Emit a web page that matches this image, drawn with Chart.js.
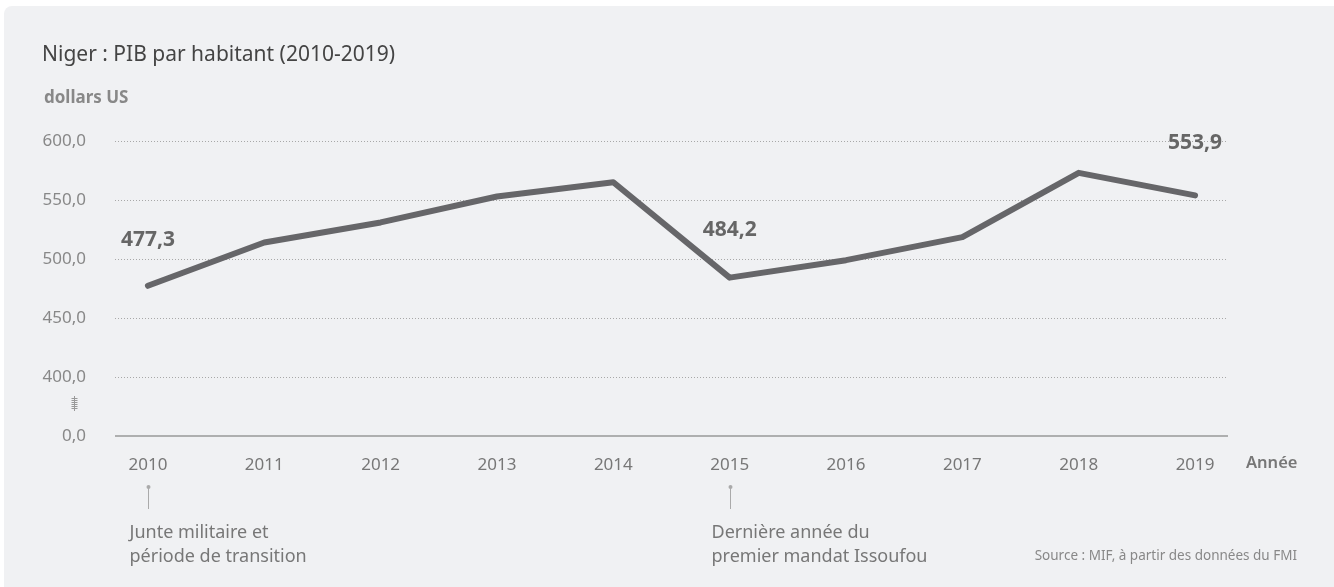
<!DOCTYPE html>
<html>
<head>
<meta charset="utf-8">
<script src="https://cdn.jsdelivr.net/npm/chart.js@4.4.0/dist/chart.umd.min.js"></script>
<style>
  html, body { margin: 0; padding: 0; background: #ffffff; }
  #card {
    position: absolute; left: 4px; top: 6px; width: 1330px; height: 581px;
    background: #f0f1f3; border-radius: 8px 0 0 0;
  }
  #wrap { position: absolute; left: 0; top: 0; width: 1334px; height: 587px; }
</style>
</head>
<body>
<div id="card"></div>
<div id="wrap"><canvas id="chart" width="1334" height="587"></canvas></div>
<script>
// Niger : PIB par habitant (2010-2019)
const years = [2010, 2011, 2012, 2013, 2014, 2015, 2016, 2017, 2018, 2019];
const gdpPerCapita = [477.3, 514.0, 531.0, 553.0, 565.0, 484.2, 499.0, 518.5, 573.0, 553.9];
const yTicks = [350, 400, 450, 500, 550, 600]; // 350 is shown as the broken-axis "0,0"
const labelledYears = [2010, 2015, 2019];
const notes = [
    { year: 2010, lines: ["Junte militaire et", "période de transition"] },
    { year: 2015, lines: ["Dernière année du", "premier mandat Issoufou"] }
];

const FONT = "'Noto Sans', 'Open Sans', sans-serif";
const fmt = v => v.toFixed(1).replace('.', ',');

const decorations = {
    id: 'decorations',
    afterDatasetsDraw(chart) {
        const { ctx, chartArea, scales: { x, y } } = chart;
        ctx.save();

        // titles
        ctx.textBaseline = 'middle';
        ctx.textAlign = 'left';
        ctx.fillStyle = '#444';
        ctx.font = `21px ${FONT}`;
        ctx.fillText('Niger : PIB par habitant (2010-2019)', 42, 55);
        ctx.fillStyle = '#888';
        ctx.font = `bold 17px ${FONT}`;
        ctx.fillText('dollars US', 44, 98);

        // axis name
        ctx.fillStyle = '#777';
        ctx.font = `600 16.5px ${FONT}`;
        ctx.fillText('Année', 1246, 463);

        // solid base line
        ctx.strokeStyle = '#999';
        ctx.lineWidth = 1.5;
        ctx.beginPath();
        ctx.moveTo(chartArea.left, y.getPixelForValue(350));
        ctx.lineTo(chartArea.right, y.getPixelForValue(350));
        ctx.stroke();

        // axis break mark
        ctx.strokeStyle = '#999';
        ctx.lineWidth = 1;
        ctx.beginPath();
        ctx.moveTo(74.5, 396);
        ctx.lineTo(74.5, 411);
        for (let yy = 398; yy <= 408; yy += 2) {
            ctx.moveTo(71.5, yy + 0.5);
            ctx.lineTo(77.5, yy + 0.5);
        }
        ctx.stroke();

        // value labels
        ctx.fillStyle = '#666';
        ctx.font = `bold 21px ${FONT}`;
        ctx.textAlign = 'center';
        const offsets = { 2010: -46, 2015: -48, 2019: -52 };
        labelledYears.forEach(yr => {
            const i = years.indexOf(yr);
            const px = x.getPixelForValue(yr);
            const py = y.getPixelForValue(gdpPerCapita[i]);
            ctx.fillText(fmt(gdpPerCapita[i]), px, py + offsets[yr]);
        });

        // notes with pins
        notes.forEach(n => {
            const px = Math.round(x.getPixelForValue(n.year)) + 0.5;
            ctx.strokeStyle = '#aaa';
            ctx.lineWidth = 1;
            ctx.beginPath();
            ctx.moveTo(px, 487);
            ctx.lineTo(px, 509);
            ctx.stroke();
            ctx.fillStyle = '#aaa';
            ctx.beginPath();
            ctx.arc(px, 487, 2, 0, Math.PI * 2);
            ctx.fill();
            ctx.fillStyle = '#777';
            ctx.font = `18px ${FONT}`;
            ctx.textAlign = 'left';
            n.lines.forEach((t, k) => ctx.fillText(t, px - 19, 533 + k * 24));
        });

        // source
        ctx.fillStyle = '#888';
        ctx.font = `13.5px 'Liberation Sans Narrow', ${FONT}`;
        ctx.textAlign = 'right';
        ctx.fillText('Source : MIF, à partir des données du FMI', 1297, 556);

        ctx.restore();
    }
};

new Chart(document.getElementById('chart'), {
    type: 'line',
    data: {
        datasets: [{
            data: years.map((yr, i) => ({ x: yr, y: gdpPerCapita[i] })),
            borderColor: '#666669',
            borderWidth: 6,
            borderCapStyle: 'round',
            borderJoinStyle: 'round',
            pointRadius: 0,
            tension: 0
        }]
    },
    options: {
        responsive: false,
        animation: false,
        layout: { padding: { top: 141, right: 106, left: 0, bottom: 0 } },
        plugins: { legend: { display: false }, tooltip: { enabled: false } },
        scales: {
            x: {
                type: 'linear',
                min: 2009.717,
                max: 2019.283,
                afterBuildTicks: s => { s.ticks = years.map(v => ({ value: v })); },
                afterFit: s => { s.height = 151; },
                grid: { display: false },
                border: { display: false },
                ticks: {
                    padding: 11,
                    color: '#777',
                    font: { family: FONT, size: 17 },
                    callback: v => String(v),
                    maxRotation: 0
                }
            },
            y: {
                min: 350,
                max: 600,
                afterBuildTicks: s => { s.ticks = yTicks.map(v => ({ value: v })); },
                afterFit: s => { s.width = 115; },
                grid: {
                    drawTicks: false,
                    color: ctx => ctx.tick && ctx.tick.value === 350 ? 'rgba(0,0,0,0)' : '#a8a8a8',
                    lineWidth: 1
                },
                border: { display: false, dash: [1, 2] },
                ticks: {
                    padding: 29,
                    color: '#888',
                    font: { family: FONT, size: 17 },
                    callback: v => v === 350 ? '0,0' : fmt(v)
                }
            }
        }
    },
    plugins: [decorations]
});
</script>
</body>
</html>
